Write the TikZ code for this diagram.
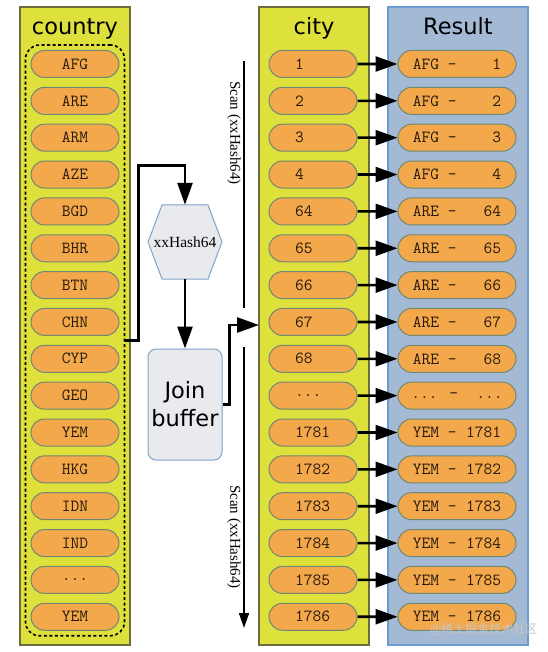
\documentclass[tikz,border=0pt]{standalone}
\usepackage{fontspec}
\setmainfont{Liberation Serif}
\setsansfont{DejaVu Sans}
\newfontfamily\cjk{Noto Sans CJK SC}
\usetikzlibrary{shapes.misc,arrows.meta,fit,positioning}

\definecolor{colfill}{HTML}{DEE03C}
\definecolor{colline}{HTML}{6E6C3C}
\definecolor{resfill}{HTML}{A4BAD4}
\definecolor{resline}{HTML}{6C9CCF}
\definecolor{pillfill}{HTML}{F4A84C}
\definecolor{pillline}{HTML}{6F8872}
\definecolor{boxfill}{HTML}{E8EAEE}
\definecolor{boxline}{HTML}{7FA3C9}

\newcommand\rowdots{...}

\tikzset{
	coltable/.style={draw=colline,fill=colfill,line width=1.2pt,minimum width=110pt,minimum height=638pt},
	restable/.style={coltable,draw=resline,fill=resfill,minimum width=140pt},
	title/.style={anchor=base,font=\sffamily\fontsize{22.5}{22.5}\selectfont},
	pill/.style={rounded rectangle,draw=pillline,fill=pillfill,line width=1pt,minimum height=27pt,inner sep=0pt,text=black!80!brown,font=\ttfamily\fontsize{17}{17}\selectfont},
	flow/.style={line width=2.6pt,-{Triangle[length=22pt,width=15pt]}},
	scan/.style={line width=1.5pt},
	scanlabel/.style={rotate=-90,font=\fontsize{15}{15}\selectfont},
	hexline/.style={draw=boxline,fill=boxfill,line width=1pt},
	joinbox/.style={hexline,rounded corners=8pt,minimum width=74pt,minimum height=111pt,align=center,font=\sffamily\fontsize{22.5}{28}\selectfont},
}

\begin{document}
\begin{tikzpicture}[x=1pt,y=-1pt]
	\useasboundingbox (0,0) rectangle (547,652);

	% the three tables
	\node[coltable] (country) at (75,326) {};
	\node[coltable] (city) at (314,326) {};
	\node[restable] (result) at (458,326) {};
	\node[title] (country-title) at (75,35) {country};
	\node[title] (city-title) at (314,35) {city};
	\node[title] (result-title) at (458,35) {Result};

	\foreach \code [count=\i] in {AFG,ARE,ARM,AZE,BGD,BHR,BTN,CHN,CYP,GEO,YEM,HKG,IDN,IND,\rowdots,YEM}
		\node[pill,minimum width=88pt] (c\i) at (75,27.15+36.85*\i) {\code};
	\node[draw,line width=1.6pt,dash pattern=on 3pt off 2.5pt,rounded corners=14pt,inner sep=5pt,fit=(c1)(c16)] (grp) {};

	\foreach \cty/\id [count=\i] in {AFG/1,AFG/2,AFG/3,AFG/4,ARE/64,ARE/65,ARE/66,ARE/67,ARE/68,\rowdots/\rowdots,YEM/1781,YEM/1782,YEM/1783,YEM/1784,YEM/1785,YEM/1786}{
		\node[pill,minimum width=88pt] (t\i) at (313,27.15+36.85*\i) {\makebox[2.1em][l]{\id}};
		\node[pill,minimum width=118pt] (r\i) at (457,27.15+36.85*\i) {\cty{} -\makebox[2.625em][r]{\id}};
		\draw[flow] (t\i) -- (r\i);
	}

	% hash and join buffer
	\draw[hexline] (148,242) -- ++(14,-37) -- ++(46,0) -- ++(14,37) -- ++(-14,37) -- ++(-46,0) -- cycle;
	\node[minimum size=74pt,inner sep=0pt,font=\fontsize{15.5}{15.5}\selectfont] (hash) at (185,242) {xxHash64};
	\node[joinbox] (buf) at (185,404.5) {Join\\buffer};

	\draw[flow] (grp.east) -- ++(13,0) -- ++(0,-175) -| (hash.north);
	\draw[flow] (hash) -- (buf);
	\coordinate (city-in) at (259,325);
	\draw[flow] (buf.east) -- ++(7,0) |- (city-in);

	% scans
	\draw[scan] (244,61) -- (244,308);
	\node[scanlabel] (scan-top) at (234,133) {Scan (xxHash64)};
	\draw[scan,-{Triangle[length=15pt,width=10pt]}] (244,347) -- (244,628);
	\node[scanlabel] (scan-bottom) at (234,537) {Scan (xxHash64)};

	\node[anchor=east,text=gray!45,font=\cjk\fontsize{12}{12}\selectfont] (mark) at (541,629) {@稀土掘金技术社区};
\end{tikzpicture}
\end{document}
